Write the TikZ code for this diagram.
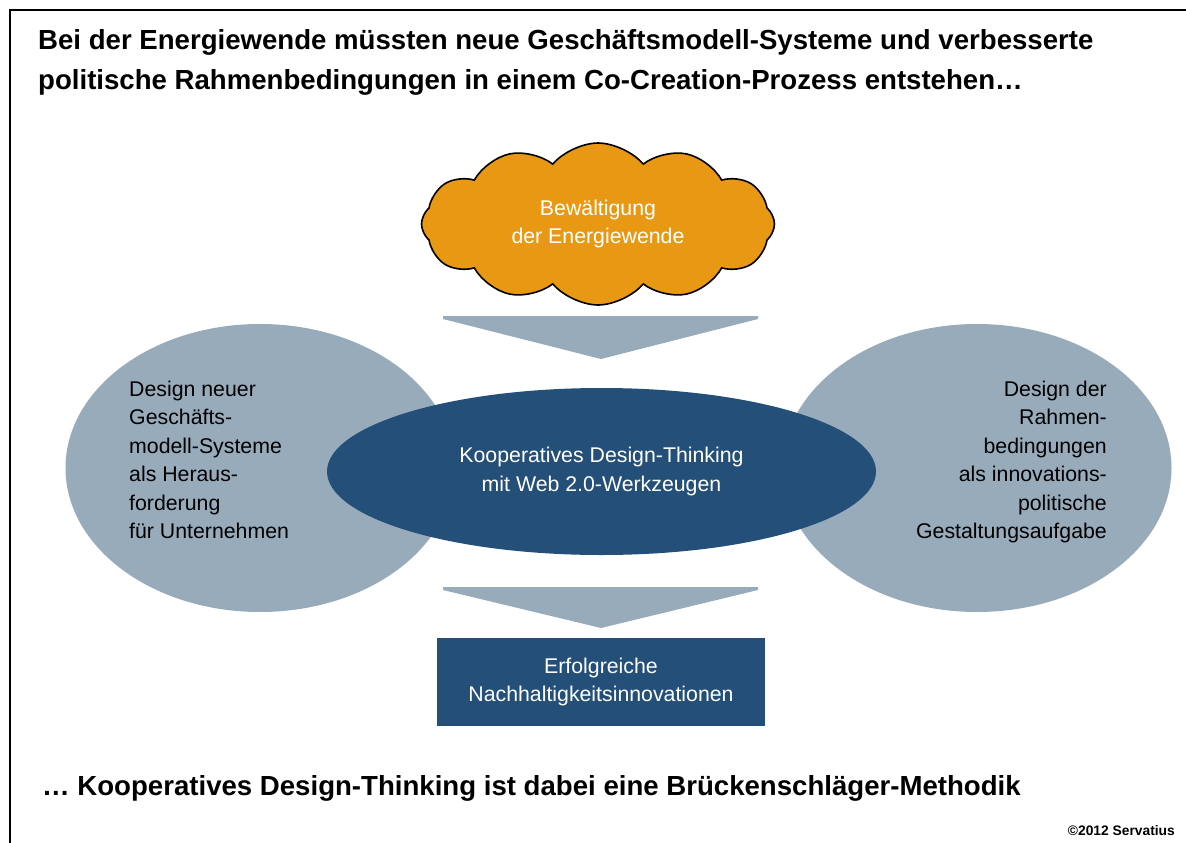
\documentclass[tikz,border=0pt]{standalone}
\usepackage{fontspec}
\setmainfont{Liberation Sans}
\usetikzlibrary{shapes.geometric,shapes.symbols}

\definecolor{greyblue}{RGB}{152,171,187}
\definecolor{deepblue}{RGB}{36,79,120}
\definecolor{sunorange}{RGB}{233,152,20}

\tikzset{
  txt/.style={font=\fontsize{21.3}{28.5}\selectfont, inner sep=0pt},
  headline/.style={font=\bfseries\fontsize{27.6}{40}\selectfont, inner sep=0pt},
  sidebubble/.style={ellipse, fill=greyblue, minimum width=389pt, minimum height=288pt, inner sep=0pt},
  chevron/.style={fill=greyblue},
}

\begin{document}
\begin{tikzpicture}[x=1pt, y=-1pt]
\useasboundingbox (0,0) rectangle (1186,843);

% frame
\draw[line width=2pt] (10,843) -- (10,10) -- (1186,10);

\node[headline, anchor=north west, align=left] (title) at (38,29)
  {Bei der Energiewende müssten neue Geschäftsmodell-Systeme und verbesserte\\
   politische Rahmenbedingungen in einem Co-Creation-Prozess entstehen\dots};

% the two sides behind, the method in front
\node[sidebubble] (firms) at (260,468) {};
\node[sidebubble] (policy) at (977,468) {};
\node[ellipse, fill=deepblue, minimum width=549pt, minimum height=167pt,
      inner sep=0pt, text=white, txt, align=center] (method) at (601.5,471.5)
  {Kooperatives Design-Thinking\\mit Web 2.0-Werkzeugen};

\node[txt, anchor=north west, align=left] (firmstext) at (129,380.7)
  {Design neuer\\Geschäfts-\\modell-Systeme\\als Heraus-\\forderung\\für Unternehmen};
\node[txt, anchor=north east, align=right] (policytext) at (1107,380.7)
  {Design der\\Rahmen-\\bedingungen\\als innovations-\\politische\\Gestaltungsaufgabe};

\node[cloud, cloud puffs=12, cloud puff arc=100, cloud ignores aspect,
      minimum width=353pt, minimum height=162pt, fill=sunorange, draw=black,
      line width=1.6pt, text=white, txt, align=center] (goal) at (598,224)
  {Bewältigung\\der Energiewende};

\fill[chevron] (443,316) -- (758,316) -- (758,319) -- (601,359) -- (443,319) -- cycle;
\fill[chevron] (443,587) -- (758,587) -- (758,590) -- (601,628) -- (443,590) -- cycle;

\node[rectangle, fill=deepblue, minimum width=328pt, minimum height=88pt,
      inner sep=0pt, text=white, txt, align=center] (result) at (601,682)
  {Erfolgreiche\\Nachhaltigkeitsinnovationen};

\node[headline, anchor=base west] (motto) at (42,795)
  {\dots\ Kooperatives Design-Thinking ist dabei eine Brückenschläger-Methodik};

\node[font=\bfseries\fontsize{13.8}{16}\selectfont, inner sep=0pt, anchor=base east]
  (copyright) at (1175,835) {©2012 Servatius};
\end{tikzpicture}
\end{document}
